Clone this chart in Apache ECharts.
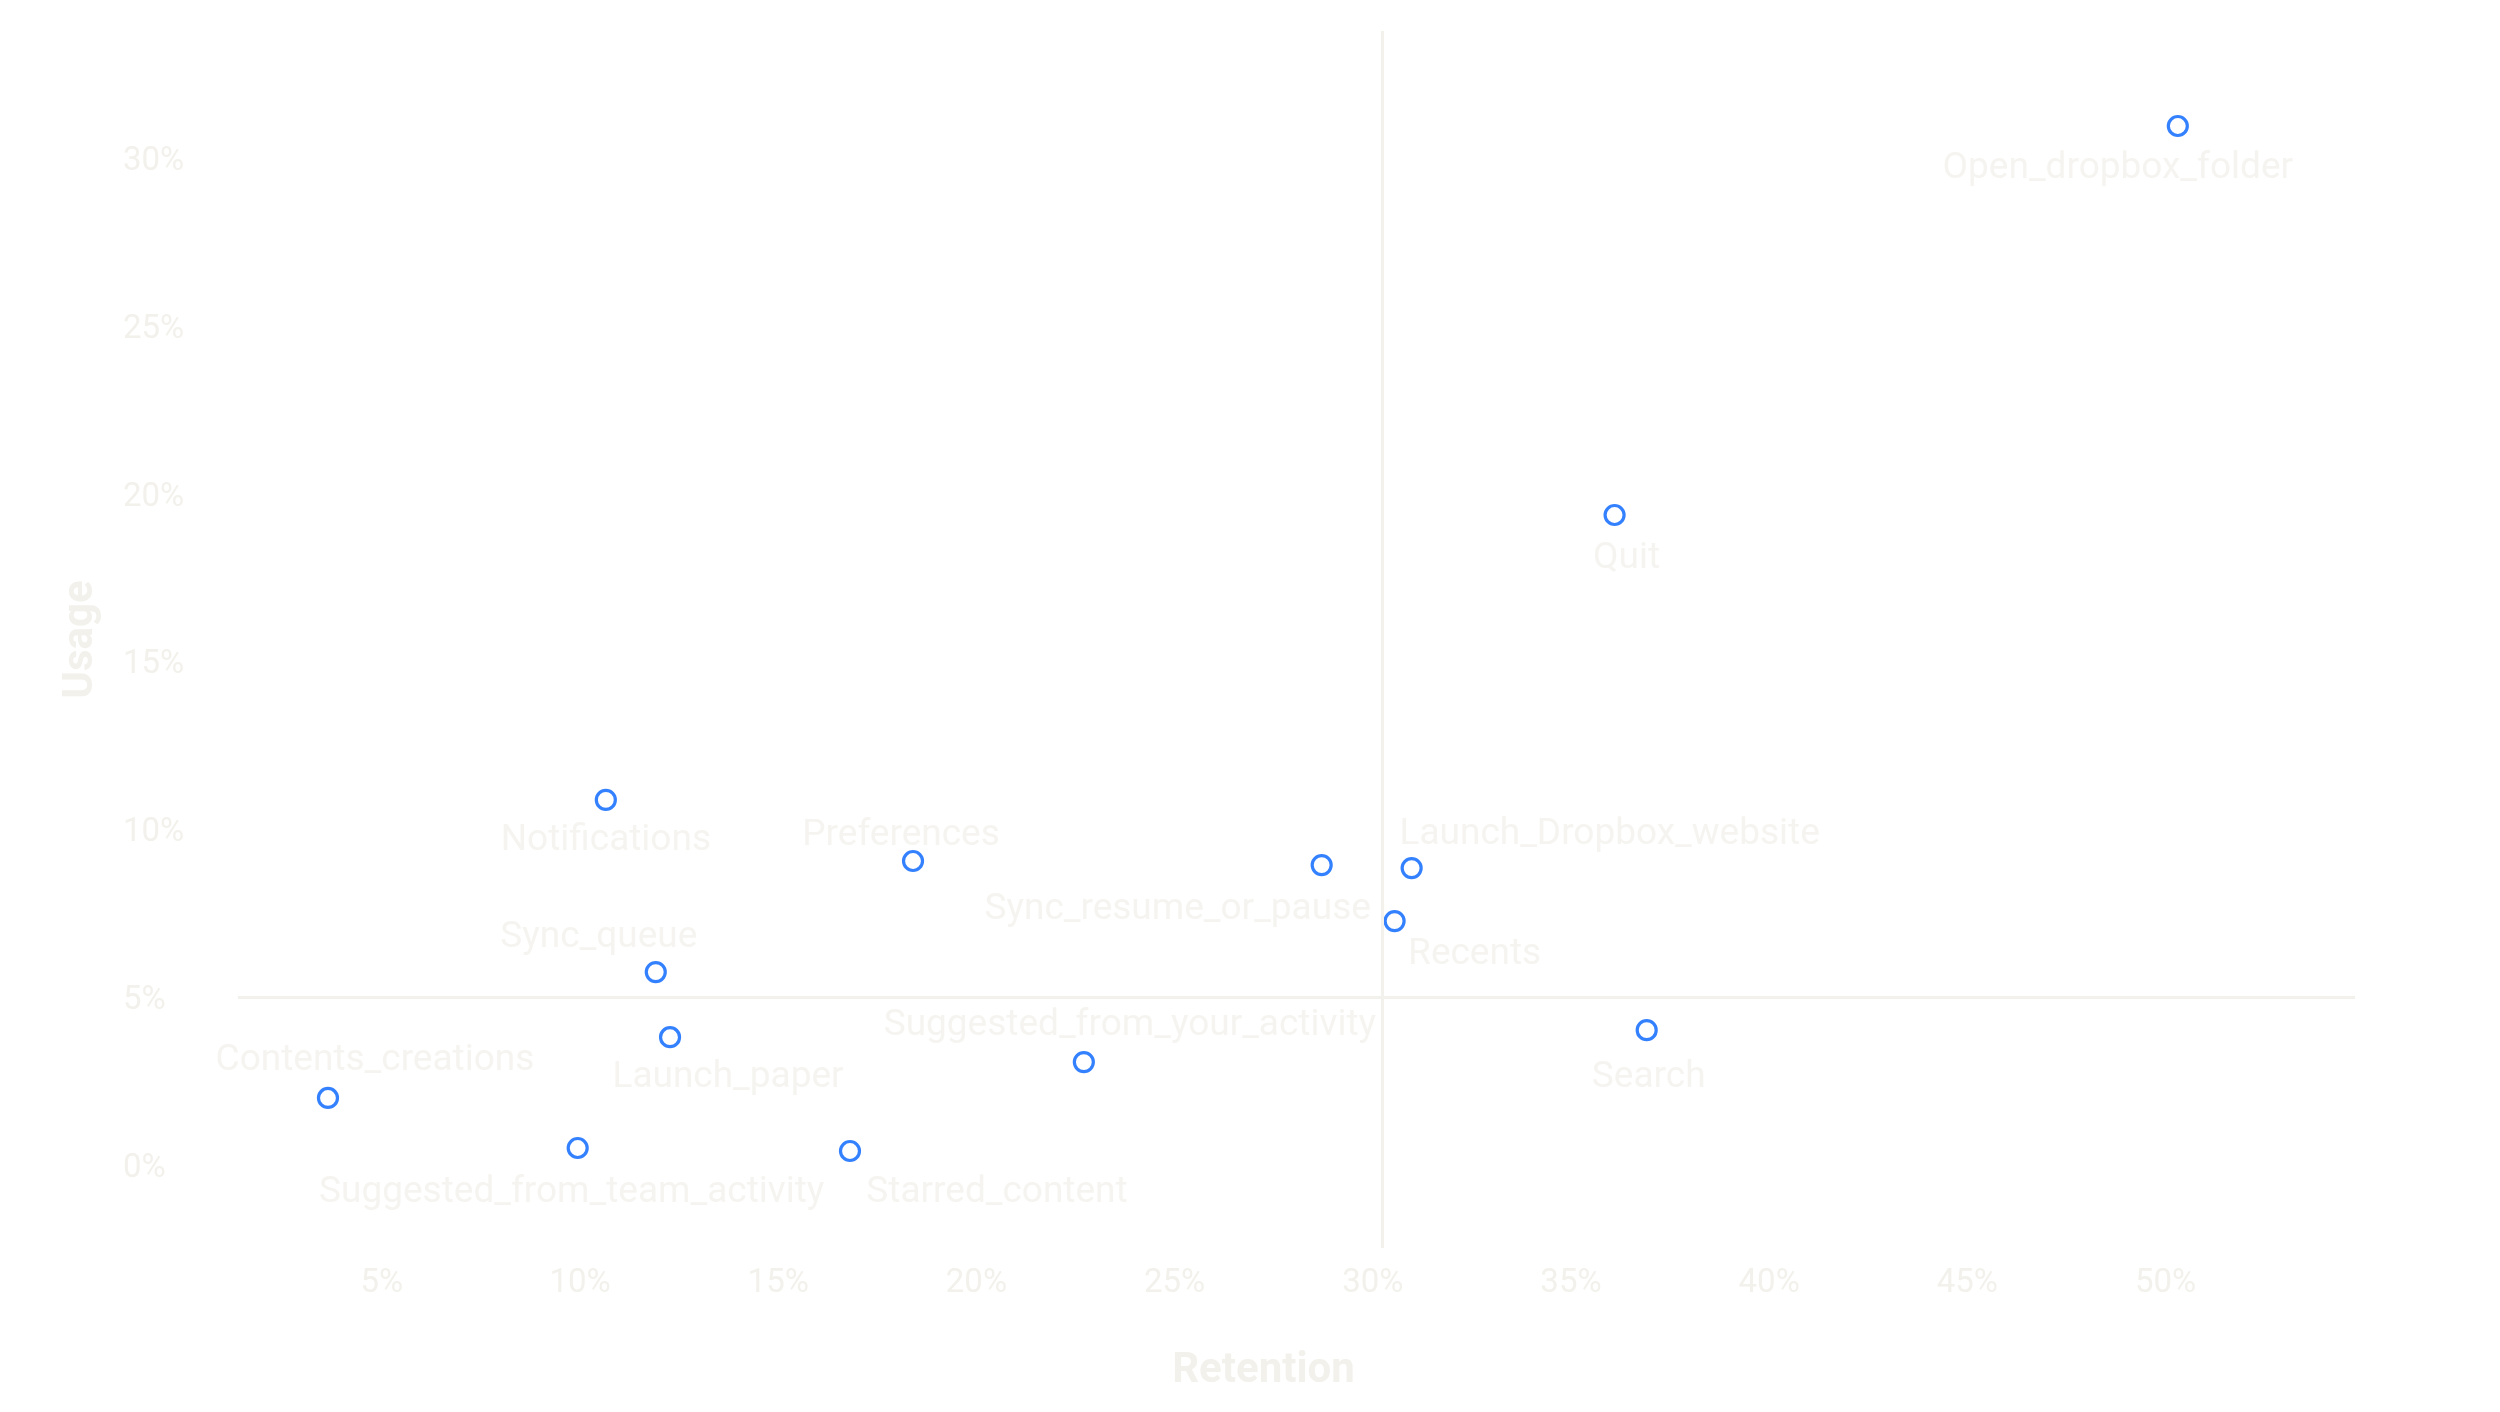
<!DOCTYPE html>
<html lang="en">

<head>
    <meta charset="UTF-8">
    <title>Retention vs Usage</title>
    <script src="https://cdn.jsdelivr.net/npm/echarts@6/dist/echarts.min.js"></script>
    <style>
        html, body { margin: 0; padding: 0; background: #fff; }
        #chart { width: 2500px; height: 1412px; }
    </style>
</head>

<body>
    <div id="chart"></div>
    <script>
        // features, retention (%) and usage (%)
        var features = ['Open_dropbox_folder', 'Quit', 'Notifications', 'Preferences', 'Sync_queue',
            'Launch_paper', 'Suggested_from_team_activity', 'Starred_content', 'Contents_creations',
            'Suggested_from_your_activity', 'Sync_resume_or_pause', 'Launch_Dropbox_website', 'Recents', 'Search']
        var retention = [50.31, 36.1, 10.65, 18.4, 11.91, 12.27, 9.94, 16.81, 3.64, 22.71, 28.71, 30.98, 30.55, 36.91]
        var usage = [30.96, 19.37, 10.88, 9.06, 5.75, 3.81, 0.51, 0.42, 2.0, 3.07, 8.94, 8.85, 7.27, 4.02]

        // reference lines
        var retentionLine = 30.24
        var usageLine = 5

        // where each label sits relative to its point (px)
        var labelOffset = {
            Open_dropbox_folder: [-60, 43],
            Quit: [12, 44],
            Notifications: [0, 41],
            Preferences: [-12, -25],
            Sync_queue: [-57, -34],
            Launch_paper: [58, 41],
            Suggested_from_team_activity: [-6, 45],
            Starred_content: [147, 42],
            Contents_creations: [47, -37],
            Suggested_from_your_activity: [46, -36],
            Sync_resume_or_pause: [-144, 45],
            Launch_Dropbox_website: [198, -33],
            Recents: [80, 34],
            Search: [2, 48]
        }

        var textColor = '#f3f1ec'
        var font = 'Roboto, "Noto Sans", sans-serif'

        var points = features.map(function(name, i) {
            return {
                name: name,
                value: [retention[i], usage[i]],
                label: { offset: labelOffset[name] }
            }
        })

        var myChart = echarts.init(document.getElementById('chart'))
        var option = {
            backgroundColor: '#ffffff',
            animation: false,
            grid: { left: 238, right: 145, top: 31, bottom: 164 },
            xAxis: {
                type: 'value',
                min: 1.37,
                max: 54.78,
                splitNumber: 10,
                name: 'Retention',
                nameLocation: 'middle',
                nameGap: 102,
                nameTextStyle: { color: textColor, fontSize: 42, fontWeight: 'bold', fontFamily: font, padding: [0, 66, 0, 0] },
                axisLine: { show: false },
                axisTick: { show: false },
                splitLine: { show: false },
                axisLabel: {
                    formatter: '{value}%', color: textColor, fontSize: 33, fontFamily: font,
                    margin: 19, showMinLabel: false, showMaxLabel: false
                }
            },
            yAxis: {
                type: 'value',
                min: -2.47,
                max: 33.79,
                splitNumber: 7,
                name: 'Usage',
                nameLocation: 'middle',
                nameGap: 136,
                nameTextStyle: { color: textColor, fontSize: 42, fontWeight: 'bold', fontFamily: font },
                axisLine: { show: false },
                axisTick: { show: false },
                splitLine: { show: false },
                axisLabel: {
                    formatter: '{t|{value}%}', align: 'left', margin: 115,
                    showMinLabel: false, showMaxLabel: false,
                    rich: { t: { color: textColor, fontSize: 33, fontFamily: font, padding: [7, 0, 0, 0] } }
                }
            },
            series: [{
                type: 'scatter',
                data: points,
                symbol: 'circle',
                symbolSize: 19,
                itemStyle: { color: '#ffffff', borderColor: '#0061fe', borderWidth: 3.2 },
                label: {
                    show: true,
                    position: 'inside',
                    formatter: '{b}',
                    color: textColor,
                    fontSize: 37,
                    fontFamily: font,
                    align: 'center',
                    verticalAlign: 'middle'
                },
                markLine: {
                    silent: true,
                    symbol: 'none',
                    label: { show: false },
                    lineStyle: { color: '#f3f1ec', width: 3, type: 'solid' },
                    data: [{ xAxis: retentionLine }, { yAxis: usageLine }]
                },
                z: 3
            }]
        }
        myChart.setOption(option)
    </script>
</body>

</html>
